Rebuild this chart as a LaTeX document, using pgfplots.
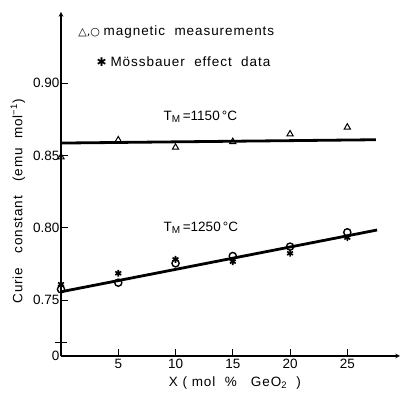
\documentclass[border=0pt]{standalone}
\usepackage{pgfplots}
\pgfplotsset{compat=1.18}
\usepackage{fontspec}
\setmainfont{Liberation Sans}
\newfontfamily\sym{DejaVu Sans}
\newfontfamily\lbl[LetterSpace=7]{Liberation Sans}
\begin{document}
\begin{tikzpicture}
\begin{axis}[
  scale only axis, width=339pt, height=344pt,
  xmin=0, xmax=29.6, ymin=0.7113, ymax=0.9491,
  axis lines=left,
  axis line style={line width=1.1pt, -stealth},
  xtick={5,10,15,20,25},
  ytick={0.7113,0.75,0.80,0.85,0.90},
  yticklabels={0,0.75,0.80,0.85,0.90},
  extra y ticks={0.7205},
  extra y tick labels={},
  extra y tick style={tick align=center, major tick length=12pt},
  tick align=inside,
  major tick length=7pt,
  tick style={black, line width=0.9pt},
  /pgf/number format/assume math mode=true,
  tick label style={font=\fontsize{13.5}{15}\selectfont},
  yticklabel style={xshift=2pt},
  clip=false,
]
\addplot[black, line width=2.8pt, no marks] coordinates {(0,0.8585) (27.5,0.8608)};
\addplot[black, line width=2.8pt, no marks] coordinates {(0,0.7557) (27.6,0.7984)};
\addplot[only marks, mark=triangle, mark size=3.6pt, mark options={line width=1pt, fill=white}] coordinates {
(0,0.8488) (5,0.8606) (10,0.8555) (15,0.8594) (20,0.8647) (25,0.8694)};
\addplot[only marks, mark=asterisk, mark size=3.4pt, mark options={line width=1.6pt}] coordinates {
(0,0.7609) (5,0.7685) (10,0.7781) (15,0.7765) (20,0.7823) (25,0.7931)};
\addplot[only marks, mark=o, mark size=3.6pt, mark options={line width=1.4pt, fill=white}] coordinates {
(0,0.7574) (5,0.7620) (10,0.7754) (15,0.7804) (20,0.7869) (25,0.7968)};
\node[anchor=west, font=\fontsize{13.5}{15}\selectfont] at (rel axis cs:0.041,0.942) {{\sym\fontsize{11}{12}\selectfont △,○}\ {\lbl magnetic\ \ measurements}};
\node[anchor=west, font=\fontsize{13.5}{15}\selectfont] at (rel axis cs:0.095,0.855) {{\sym\fontsize{12}{12}\selectfont ✱}\ {\lbl Mössbauer\ \ effect\ \ data}};
\node[anchor=west, font=\fontsize{13.5}{15}\selectfont] at (rel axis cs:0.292,0.695) {T\textsubscript{\fontsize{10}{11}\selectfont M}\,=1150\,°C};
\node[anchor=west, font=\fontsize{13.5}{15}\selectfont] at (rel axis cs:0.292,0.372) {T\textsubscript{\fontsize{10}{11}\selectfont M}\,=1250\,°C};
\node[rotate=90, font=\fontsize{13.5}{15}\selectfont] at (rel axis cs:0,0.45) [yshift=43pt] {{\lbl Curie\ \ \ constant\ \ \ (emu\ \ mol\textsuperscript{−1})}};
\node[font=\fontsize{13.5}{15}\selectfont] at (rel axis cs:0.513,0) [yshift=-27pt] {{\lbl X\ (\ mol\ \ \%\ \ \ GeO\textsubscript{2}\ \ )}};
\end{axis}
\pgfresetboundingbox
\path (current axis.south west) ++(-61pt,-38pt) rectangle ++(405pt,394pt);
\end{tikzpicture}
\end{document}
